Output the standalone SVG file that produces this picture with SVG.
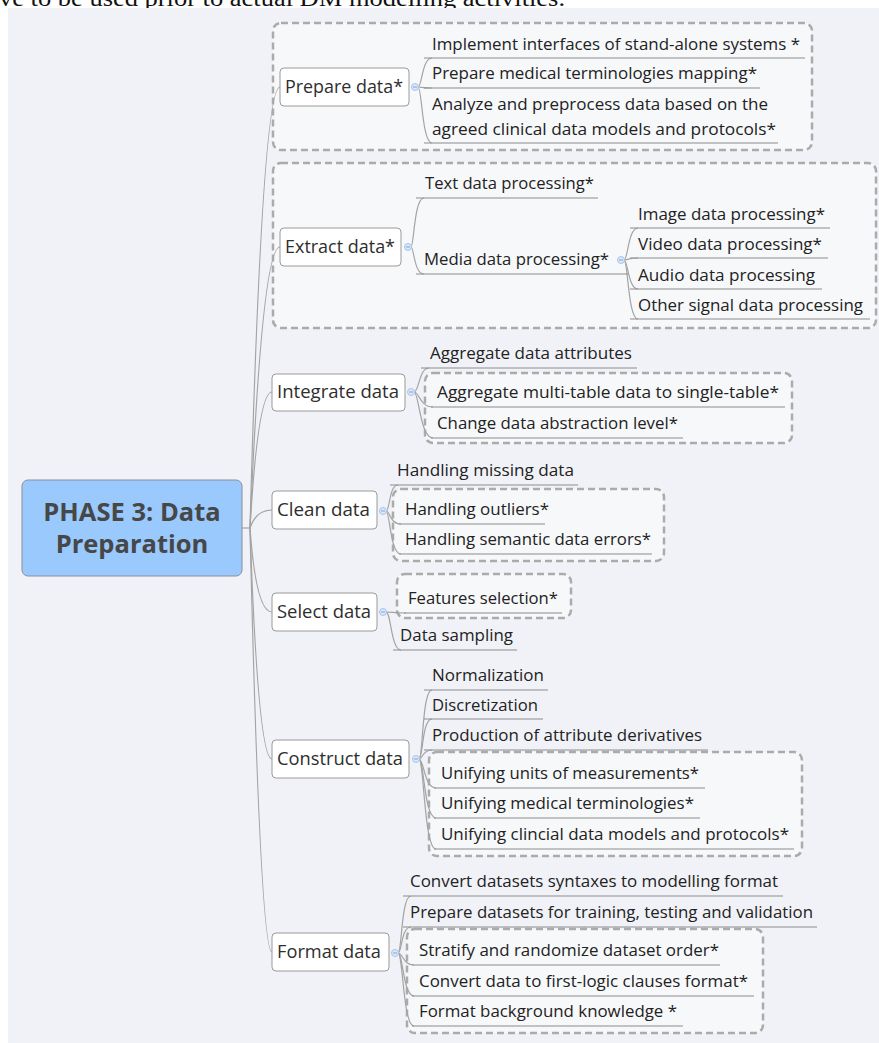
<svg xmlns="http://www.w3.org/2000/svg" width="879" height="1043" viewBox="0 0 879 1043">
<style>
.top{font-family:"Liberation Serif","Times New Roman",serif;font-size:23px;fill:#111}
.bg{fill:#f1f2f7}
.bound{fill:#f7f8fa;stroke:#ababab;stroke-width:2.5;stroke-dasharray:7 4}
.topic{fill:#fff;stroke:#9a9a9a;stroke-width:1}
.bt{font-family:"Open Sans","Noto Sans",sans-serif;font-size:18px;fill:#2e2e2e}
.t{font-family:"Open Sans","Noto Sans",sans-serif;font-size:17px;fill:#222}
.ul{stroke:#8c8c8c;stroke-width:1;fill:none}
.con{stroke:#a3a3a3;stroke-width:1.2;fill:none}
.dot{fill:#dbe7f9;stroke:#a7c4ec;stroke-width:1}
.dm{stroke:#7fa6dc;stroke-width:1}
.ct{font-family:"Open Sans","Noto Sans",sans-serif;font-size:25.5px;font-weight:bold;fill:#474747}
</style>
<defs>
<g id="dotsym"><circle class="dot" cx="0" cy="0" r="3.5"/><line class="dm" x1="-2" y1="0" x2="2" y2="0"/></g>
</defs>
<text class="top" x="-1" y="6" textLength="566" lengthAdjust="spacingAndGlyphs">ve to be used prior to actual DM modelling activities.</text>
<rect class="bg" x="8" y="8" width="871" height="1035"/>

<g id="boundaries">
<rect class="bound" x="273" y="23" width="539" height="127" rx="8"/>
<rect class="bound" x="273" y="163" width="603" height="165" rx="8"/>
<rect class="bound" x="425" y="373" width="367" height="70" rx="8"/>
<rect class="bound" x="393" y="489" width="271" height="72" rx="8"/>
<rect class="bound" x="397" y="574" width="174" height="44" rx="8"/>
<rect class="bound" x="429" y="752" width="373" height="104" rx="8"/>
<rect class="bound" x="407" y="929" width="356" height="104" rx="8"/>
</g>

<g id="connectors">
<line class="con" x1="242" y1="528" x2="250" y2="528"/>
<path class="con" d="M250,528 Q262,87 280,87"/>
<path class="con" d="M250,528 Q262,247 280,247"/>
<path class="con" d="M250,528 Q258,392 272,392"/>
<path class="con" d="M250,528 Q256,510 272,510"/>
<path class="con" d="M250,528 Q256,612 272,612"/>
<path class="con" d="M250,528 Q258,759 272,759"/>
<path class="con" d="M250,528 Q260,952 272,952"/>
<path class="con" d="M418,87 C422,87 422,58 432,58"/>
<path class="con" d="M418,87 C422,87 422,88 432,88"/>
<path class="con" d="M418,87 C422,87 422,143 432,143"/>
<path class="con" d="M411,247 C414,247 414,198 424,198"/>
<path class="con" d="M411,247 C414,247 414,274 424,274"/>
<path class="con" d="M624,260 C628,260 628,228 638,228"/>
<path class="con" d="M624,260 C628,260 628,258 638,258"/>
<path class="con" d="M624,260 C628,260 628,289 638,289"/>
<path class="con" d="M624,260 C628,260 628,319 638,319"/>
<path class="con" d="M414,392 C419,392 419,368 429,368"/>
<path class="con" d="M414,392 C419,392 420,407 433,407"/>
<path class="con" d="M414,392 C419,392 420,438 433,438"/>
<path class="con" d="M386,511 C390,511 389,485 398,485"/>
<path class="con" d="M386,511 C390,511 390,524 401,524"/>
<path class="con" d="M386,511 C390,511 390,554 401,554"/>
<path class="con" d="M386,612 C392,612 394,613 406,613"/>
<path class="con" d="M386,612 C391,612 391,650 401,650"/>
<path class="con" d="M419,759 C423,759 422,690 432,690"/>
<path class="con" d="M419,759 C423,759 422,719 432,719"/>
<path class="con" d="M419,759 C423,759 422,750 432,750"/>
<path class="con" d="M419,759 C424,759 424,788 436,788"/>
<path class="con" d="M419,759 C424,759 424,818 436,818"/>
<path class="con" d="M419,759 C424,759 424,849 436,849"/>
<path class="con" d="M398,953 C402,953 401,896 411,896"/>
<path class="con" d="M398,953 C402,953 401,927 411,927"/>
<path class="con" d="M398,953 C403,953 403,965 414,965"/>
<path class="con" d="M398,953 C403,953 403,996 414,996"/>
<path class="con" d="M398,953 C403,953 403,1026 414,1026"/>
</g>

<g id="central">
<rect x="22" y="480" width="220" height="96" rx="6" fill="#99c9fd" stroke="#8a8f98" stroke-width="1"/>
<text class="ct" x="132" y="521" text-anchor="middle">PHASE 3: Data</text>
<text class="ct" x="132" y="553" text-anchor="middle">Preparation</text>
</g>

<g id="n-prepare">
<rect class="topic" x="280" y="68" width="129" height="38" rx="4"/>
<text class="bt" x="285" y="93" textLength="118" lengthAdjust="spacingAndGlyphs">Prepare data*</text>
<use href="#dotsym" x="415" y="87"/>
</g>
<g id="n-prepare-1"><text class="t" x="432" y="50" textLength="368" lengthAdjust="spacingAndGlyphs">Implement interfaces of stand-alone systems *</text><line class="ul" x1="424" y1="58" x2="805" y2="58"/></g>
<g id="n-prepare-2"><text class="t" x="432" y="79" textLength="325" lengthAdjust="spacingAndGlyphs">Prepare medical terminologies mapping*</text><line class="ul" x1="424" y1="88" x2="760" y2="88"/></g>
<g id="n-prepare-3"><text class="t" x="432" y="110" textLength="336" lengthAdjust="spacingAndGlyphs">Analyze and preprocess data based on the</text><text class="t" x="432" y="135" textLength="344" lengthAdjust="spacingAndGlyphs">agreed clinical data models and protocols*</text><line class="ul" x1="424" y1="143" x2="778" y2="143"/></g>

<g id="n-extract">
<rect class="topic" x="280" y="228" width="121" height="38" rx="4"/>
<text class="bt" x="285" y="253" textLength="110" lengthAdjust="spacingAndGlyphs">Extract data*</text>
<use href="#dotsym" x="408" y="247"/>
</g>
<g id="n-extract-1"><text class="t" x="425" y="189" textLength="169" lengthAdjust="spacingAndGlyphs">Text data processing*</text><line class="ul" x1="416" y1="198" x2="598" y2="198"/></g>
<g id="n-extract-2"><text class="t" x="424" y="265" textLength="185" lengthAdjust="spacingAndGlyphs">Media data processing*</text><line class="ul" x1="416" y1="274" x2="628" y2="274"/><use href="#dotsym" x="621" y="260"/></g>
<g id="n-extract-2-1"><text class="t" x="638" y="220" textLength="187" lengthAdjust="spacingAndGlyphs">Image data processing*</text><line class="ul" x1="630" y1="228" x2="830" y2="228"/></g>
<g id="n-extract-2-2"><text class="t" x="638" y="250" textLength="184" lengthAdjust="spacingAndGlyphs">Video data processing*</text><line class="ul" x1="630" y1="258" x2="828" y2="258"/></g>
<g id="n-extract-2-3"><text class="t" x="638" y="281" textLength="177" lengthAdjust="spacingAndGlyphs">Audio data processing</text><line class="ul" x1="630" y1="289" x2="822" y2="289"/></g>
<g id="n-extract-2-4"><text class="t" x="638" y="311" textLength="225" lengthAdjust="spacingAndGlyphs">Other signal data processing</text><line class="ul" x1="630" y1="319" x2="870" y2="319"/></g>

<g id="n-integrate">
<rect class="topic" x="272" y="374" width="133" height="37" rx="4"/>
<text class="bt" x="277" y="398" textLength="122" lengthAdjust="spacingAndGlyphs">Integrate data</text>
<use href="#dotsym" x="411" y="392"/>
</g>
<g id="n-integrate-1"><text class="t" x="430" y="359" textLength="202" lengthAdjust="spacingAndGlyphs">Aggregate data attributes</text><line class="ul" x1="421" y1="368" x2="637" y2="368"/></g>
<g id="n-integrate-2"><text class="t" x="437" y="398" textLength="342" lengthAdjust="spacingAndGlyphs">Aggregate multi-table data to single-table*</text><line class="ul" x1="431" y1="407" x2="785" y2="407"/></g>
<g id="n-integrate-3"><text class="t" x="437" y="429" textLength="241" lengthAdjust="spacingAndGlyphs">Change data abstraction level*</text><line class="ul" x1="431" y1="438" x2="683" y2="438"/></g>

<g id="n-clean">
<rect class="topic" x="272" y="491" width="105" height="38" rx="4"/>
<text class="bt" x="277" y="516" textLength="93" lengthAdjust="spacingAndGlyphs">Clean data</text>
<use href="#dotsym" x="383" y="511"/>
</g>
<g id="n-clean-1"><text class="t" x="397" y="476" textLength="177" lengthAdjust="spacingAndGlyphs">Handling missing data</text><line class="ul" x1="390" y1="485" x2="578" y2="485"/></g>
<g id="n-clean-2"><text class="t" x="405" y="515" textLength="144" lengthAdjust="spacingAndGlyphs">Handling outliers*</text><line class="ul" x1="399" y1="524" x2="545" y2="524"/></g>
<g id="n-clean-3"><text class="t" x="405" y="545" textLength="246" lengthAdjust="spacingAndGlyphs">Handling semantic data errors*</text><line class="ul" x1="399" y1="554" x2="652" y2="554"/></g>

<g id="n-select">
<rect class="topic" x="272" y="593" width="105" height="38" rx="4"/>
<text class="bt" x="277" y="618" textLength="94" lengthAdjust="spacingAndGlyphs">Select data</text>
<use href="#dotsym" x="383" y="612"/>
</g>
<g id="n-select-1"><text class="t" x="408" y="604" textLength="150" lengthAdjust="spacingAndGlyphs">Features selection*</text><line class="ul" x1="404" y1="613" x2="562" y2="613"/></g>
<g id="n-select-2"><text class="t" x="400" y="641" textLength="113" lengthAdjust="spacingAndGlyphs">Data sampling</text><line class="ul" x1="393" y1="650" x2="517" y2="650"/></g>

<g id="n-construct">
<rect class="topic" x="272" y="740" width="137" height="38" rx="4"/>
<text class="bt" x="277" y="765" textLength="126" lengthAdjust="spacingAndGlyphs">Construct data</text>
<use href="#dotsym" x="416" y="759"/>
</g>
<g id="n-construct-1"><text class="t" x="432" y="681" textLength="112" lengthAdjust="spacingAndGlyphs">Normalization</text><line class="ul" x1="424" y1="690" x2="548" y2="690"/></g>
<g id="n-construct-2"><text class="t" x="432" y="711" textLength="106" lengthAdjust="spacingAndGlyphs">Discretization</text><line class="ul" x1="424" y1="719" x2="543" y2="719"/></g>
<g id="n-construct-3"><text class="t" x="432" y="741" textLength="270" lengthAdjust="spacingAndGlyphs">Production of attribute derivatives</text><line class="ul" x1="424" y1="750" x2="708" y2="750"/></g>
<g id="n-construct-4"><text class="t" x="441" y="779" textLength="258" lengthAdjust="spacingAndGlyphs">Unifying units of measurements*</text><line class="ul" x1="434" y1="788" x2="705" y2="788"/></g>
<g id="n-construct-5"><text class="t" x="441" y="809" textLength="253" lengthAdjust="spacingAndGlyphs">Unifying medical terminologies*</text><line class="ul" x1="434" y1="818" x2="700" y2="818"/></g>
<g id="n-construct-6"><text class="t" x="441" y="840" textLength="348" lengthAdjust="spacingAndGlyphs">Unifying clincial data models and protocols*</text><line class="ul" x1="434" y1="849" x2="794" y2="849"/></g>

<g id="n-format">
<rect class="topic" x="272" y="933" width="117" height="38" rx="4"/>
<text class="bt" x="277" y="958" textLength="104" lengthAdjust="spacingAndGlyphs">Format data</text>
<use href="#dotsym" x="395" y="953"/>
</g>
<g id="n-format-1"><text class="t" x="410" y="887" textLength="368" lengthAdjust="spacingAndGlyphs">Convert datasets syntaxes to modelling format</text><line class="ul" x1="403" y1="896" x2="783" y2="896"/></g>
<g id="n-format-2"><text class="t" x="410" y="918" textLength="403" lengthAdjust="spacingAndGlyphs">Prepare datasets for training, testing and validation</text><line class="ul" x1="403" y1="927" x2="817" y2="927"/></g>
<g id="n-format-3"><text class="t" x="419" y="956" textLength="300" lengthAdjust="spacingAndGlyphs">Stratify and randomize dataset order*</text><line class="ul" x1="412" y1="965" x2="720" y2="965"/></g>
<g id="n-format-4"><text class="t" x="419" y="987" textLength="329" lengthAdjust="spacingAndGlyphs">Convert data to first-logic clauses format*</text><line class="ul" x1="412" y1="996" x2="754" y2="996"/></g>
<g id="n-format-5"><text class="t" x="419" y="1017" textLength="258" lengthAdjust="spacingAndGlyphs">Format background knowledge *</text><line class="ul" x1="412" y1="1026" x2="683" y2="1026"/></g>
</svg>
